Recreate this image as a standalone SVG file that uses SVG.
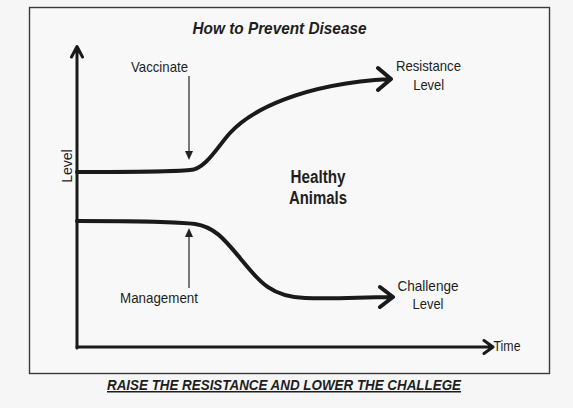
<svg xmlns="http://www.w3.org/2000/svg" width="573" height="408" viewBox="0 0 573 408">
<style>
text{font-family:"Liberation Sans",Arial,sans-serif;fill:#1e1e1e}
.lbl{font-size:15px}
.bi{font-weight:bold;font-style:italic}
.b{font-weight:bold}
.curve{fill:none;stroke:#1a1a1a;stroke-width:4;stroke-linecap:round;stroke-linejoin:round}
.axis{fill:none;stroke:#1a1a1a;stroke-width:3;stroke-linecap:round;stroke-linejoin:round}
.thin{fill:none;stroke:#333;stroke-width:1.3}
</style>
<rect x="0" y="0" width="573" height="408" fill="#f6f6f6"/>
<g id="frame">
<rect x="29.5" y="7.5" width="520" height="366" fill="#f8f8f8" stroke="#3a3a3a" stroke-width="1.4"/>
</g>
<g id="title">
<text class="bi" x="279.5" y="34" font-size="17" text-anchor="middle" textLength="174" lengthAdjust="spacingAndGlyphs">How to Prevent Disease</text>
</g>
<g id="connectors">
<path id="y-axis" class="axis" d="M77,348 L77,47 M71.5,57 L77,46.5 L82.5,57"/>
<path id="x-axis" class="axis" d="M77,347 L492,347 M484,340.5 L493,347 L484,353.5"/>
<path id="resistance-curve" class="curve" d="M77,172 C130,172 170,172 190,170 C205,170 218,146 230,133 C250,111 300,84 390,79 M378,68 L391,79 L378,90"/>
<path id="challenge-curve" class="curve" d="M77,221 C130,221 170,221 195,224 C215,227 225,240 240,258 C258,280 270,297 305,298 C340,299 360,297 391,297 M380,287 L393,297 L380,307"/>
<g id="vaccinate-arrow">
<line class="thin" x1="189" y1="76" x2="189" y2="152"/>
<polygon points="185,151 193,151 189,160" fill="#222"/>
</g>
<g id="management-arrow">
<line class="thin" x1="189" y1="288" x2="189" y2="236"/>
<polygon points="185,237 193,237 189,228" fill="#222"/>
</g>
</g>
<g id="vaccinate">
<text class="lbl" x="159.5" y="72" text-anchor="middle" textLength="57" lengthAdjust="spacingAndGlyphs">Vaccinate</text>
</g>
<g id="management">
<text class="lbl" x="159" y="303" text-anchor="middle" textLength="78" lengthAdjust="spacingAndGlyphs">Management</text>
</g>
<g id="resistance-level">
<text class="lbl" x="428.5" y="71" text-anchor="middle" textLength="65" lengthAdjust="spacingAndGlyphs">Resistance</text>
<text class="lbl" x="428.7" y="90" text-anchor="middle" textLength="31" lengthAdjust="spacingAndGlyphs">Level</text>
</g>
<g id="challenge-level">
<text class="lbl" x="428" y="290.5" text-anchor="middle" textLength="61" lengthAdjust="spacingAndGlyphs">Challenge</text>
<text class="lbl" x="428" y="309" text-anchor="middle" textLength="31" lengthAdjust="spacingAndGlyphs">Level</text>
</g>
<g id="healthy-animals">
<text class="b" x="318" y="183" font-size="18" text-anchor="middle" textLength="55" lengthAdjust="spacingAndGlyphs">Healthy</text>
<text class="b" x="318" y="204" font-size="18" text-anchor="middle" textLength="58" lengthAdjust="spacingAndGlyphs">Animals</text>
</g>
<g id="y-label">
<text x="0" y="0" font-size="14" text-anchor="middle" transform="translate(72.3,166) rotate(-90)">Level</text>
</g>
<g id="x-label">
<text x="493.5" y="351" font-size="14" textLength="27" lengthAdjust="spacingAndGlyphs">Time</text>
</g>
<g id="caption">
<text class="bi" x="284" y="390" font-size="15" text-anchor="middle" text-decoration="underline" textLength="354" lengthAdjust="spacingAndGlyphs">RAISE THE RESISTANCE AND LOWER THE CHALLEGE</text>
</g>
</svg>
